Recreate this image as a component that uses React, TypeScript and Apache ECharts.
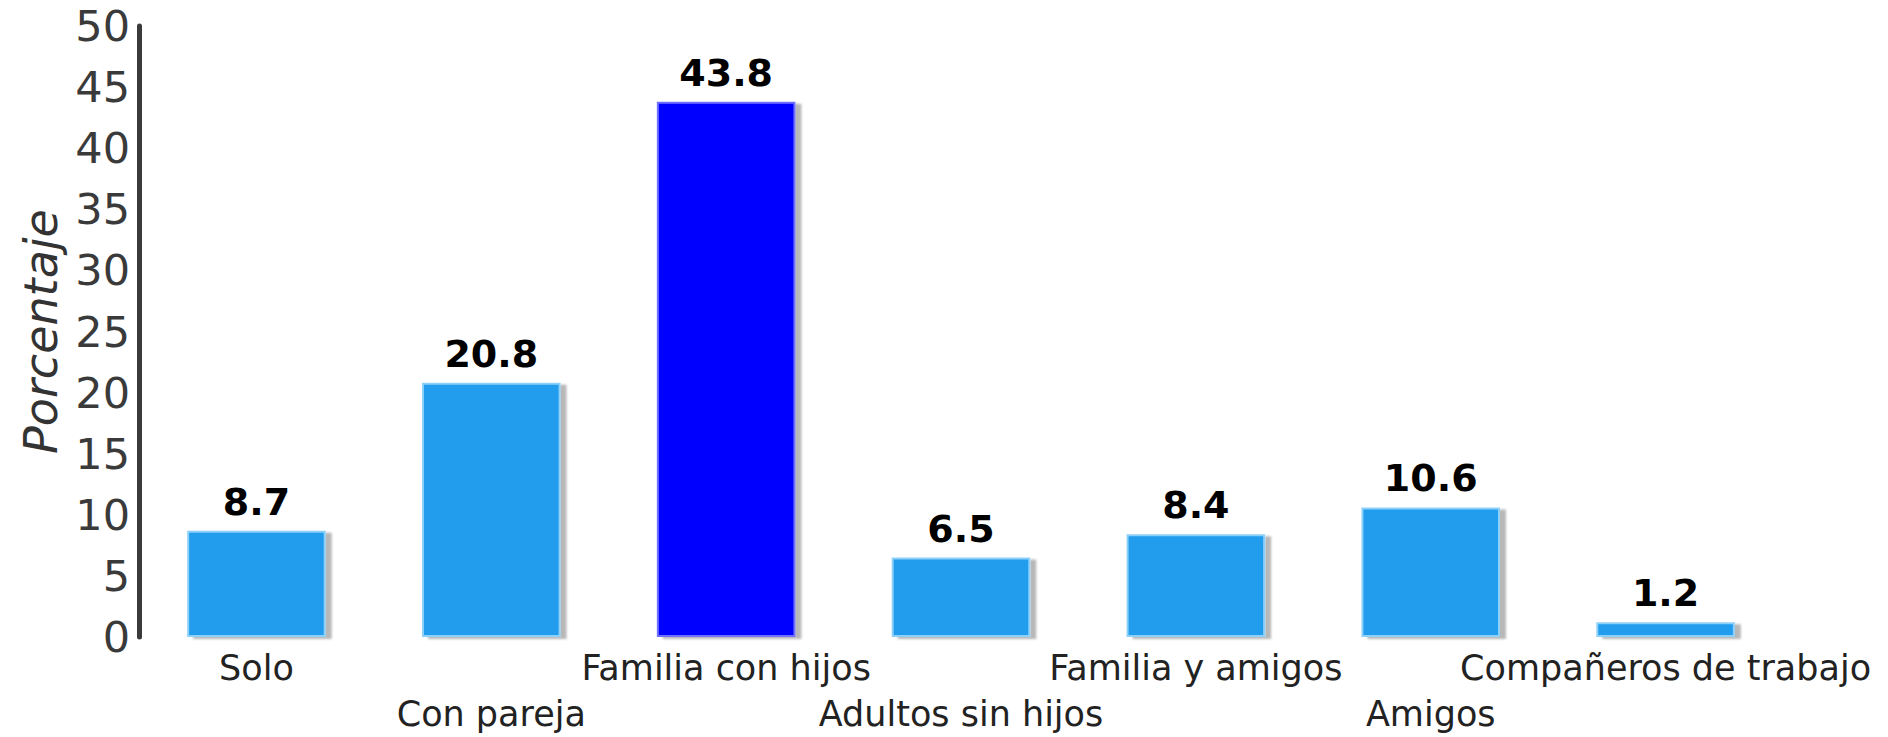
import React, { useEffect, useRef } from "react";
import * as echarts from "echarts";

const categories = [
  "Solo",
  "Con pareja",
  "Familia con hijos",
  "Adultos sin hijos",
  "Familia y amigos",
  "Amigos",
  "Compañeros de trabajo",
];
const values = [8.7, 20.8, 43.8, 6.5, 8.4, 10.6, 1.2];
const highlightIndex = 2;
const yTicks = { min: 0, max: 50, interval: 5 };
const yAxisName = "Porcentaje";

export default function App() {
  const ref = useRef<HTMLDivElement>(null);
  useEffect(() => {
    if (!ref.current) return;
    const chart = echarts.init(ref.current, null, { renderer: "svg" });
    const normal = {
      color: "#229DEE",
      borderColor: "#8DD0F8",
      borderWidth: 2,
      shadowColor: "rgba(0,0,0,0.28)",
      shadowOffsetX: 6,
      shadowOffsetY: 2,
      shadowBlur: 2,
    };
    const hi = {
      color: "#0000FF",
      borderColor: "#7070FF",
      borderWidth: 2,
      shadowColor: "rgba(0,0,0,0.28)",
      shadowOffsetX: 6,
      shadowOffsetY: 2,
      shadowBlur: 2,
    };
    chart.setOption({
      animation: false,
      backgroundColor: "#ffffff",
      grid: { left: 139, right: 105, top: 26, bottom: 96, containLabel: false },
      xAxis: {
        type: "category",
        data: categories,
        axisLine: {
          show: true,
          lineStyle: {
            color: "#2a2a2a",
            width: 3,
            shadowColor: "rgba(0,0,0,0.25)",
            shadowOffsetY: 3,
            shadowBlur: 2,
          },
        },
        axisTick: { show: false },
        axisLabel: {
          interval: 0,
          margin: 8,
          fontFamily: "DejaVu Sans",
          fontSize: 35,
          lineHeight: 46,
          color: "#222222",
          formatter: (v: string, i: number) => (i % 2 === 1 ? "\n" + v : v),
        },
        splitLine: { show: false },
      },
      yAxis: {
        type: "value",
        min: yTicks.min,
        max: yTicks.max,
        interval: yTicks.interval,
        name: yAxisName,
        nameLocation: "middle",
        nameGap: 74,
        nameTextStyle: {
          fontFamily: "DejaVu Sans",
          fontStyle: "italic",
          fontSize: 46,
          color: "#333333",
        },
        axisLine: { show: true, lineStyle: { color: "#3a3a3a", width: 5 } },
        axisTick: { show: false },
        axisLabel: {
          margin: 9,
          fontFamily: "DejaVu Sans",
          fontSize: 43,
          color: "#3a3a3a",
        },
        splitLine: { show: false },
      },
      series: [
        {
          type: "bar",
          barCategoryGap: "41%",
          data: values.map((v, i) => ({
            value: v,
            itemStyle: i === highlightIndex ? hi : normal,
          })),
          label: {
            show: true,
            position: "top",
            distance: 10,
            fontFamily: "DejaVu Sans",
            fontWeight: "bold",
            fontSize: 38,
            color: "#000000",
          },
        },
      ],
    });
    return () => chart.dispose();
  }, []);
  return (
    <div
      ref={ref}
      style={{ position: "fixed", left: 0, top: 0, width: 1888, height: 737 }}
    />
  );
}
